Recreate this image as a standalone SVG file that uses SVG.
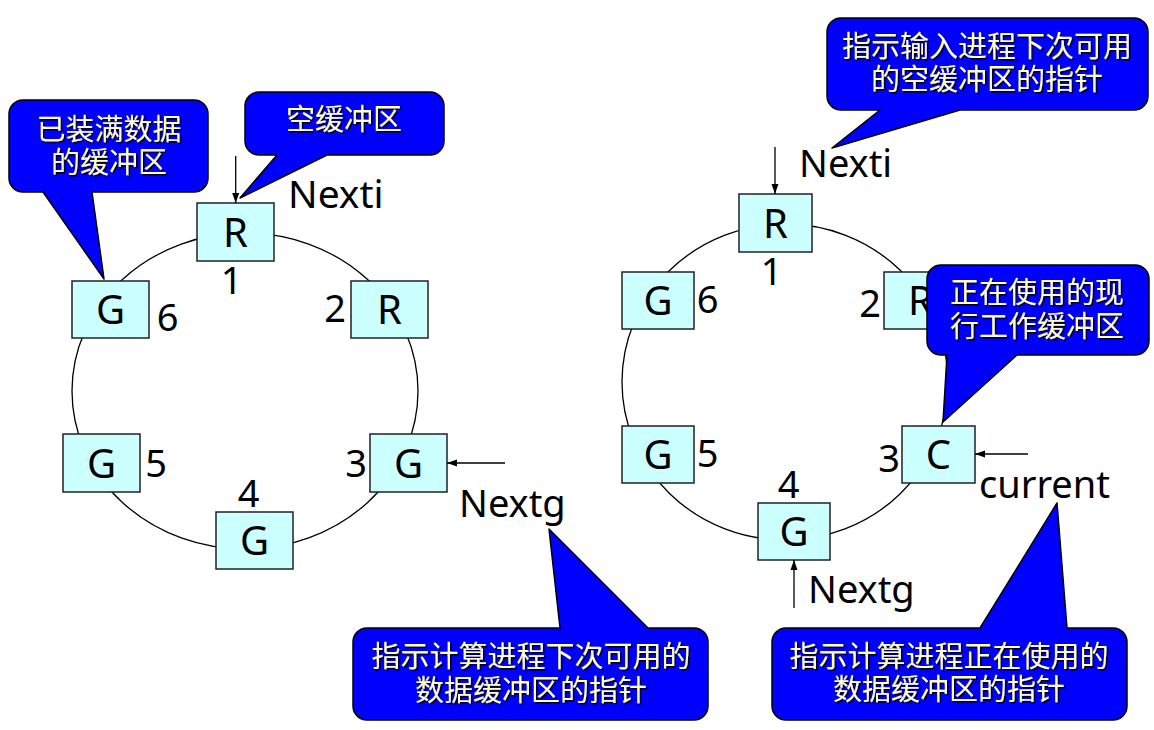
<svg xmlns="http://www.w3.org/2000/svg" width="1154" height="730" viewBox="0 0 1154 730">
<defs>
<marker id="ah" markerUnits="userSpaceOnUse" markerWidth="10" markerHeight="10" viewBox="0 0 10 10" refX="10" refY="5" orient="auto">
<path d="M0,1.5 L10,5 L0,8.5 Z" fill="#000"/>
</marker>
<filter id="sh" x="-5%" y="-20%" width="110%" height="140%">
<feDropShadow dx="1.5" dy="1.5" stdDeviation="0.3" flood-color="#000" flood-opacity="0.9"/>
</filter>
<style>
.ring{fill:none;stroke:#000;stroke-width:1.3}
.box{fill:#CCFFFF;stroke:#222;stroke-width:1.5}
.ltr{font-family:"Noto Sans","DejaVu Sans",sans-serif;font-size:40px;fill:#000;text-anchor:middle}
.num{font-family:"Noto Sans","DejaVu Sans",sans-serif;font-size:38px;fill:#000;text-anchor:middle}
.ptr{font-family:"Noto Sans","DejaVu Sans",sans-serif;font-size:38px;fill:#000}
.arr{stroke:#000;stroke-width:1.3;fill:none;marker-end:url(#ah)}
.call{fill:#0000FF;stroke:#000;stroke-width:1.5;stroke-linejoin:round}
.ct{font-family:"Noto Sans CJK SC","Noto Sans",sans-serif;font-size:29px;fill:#FFFFCC;text-anchor:middle;filter:url(#sh)}
</style>
</defs>
<rect width="1154" height="730" fill="#fff"/>

<ellipse class="ring" cx="245" cy="391" rx="173" ry="158"/>
<ellipse class="ring" cx="785" cy="382" rx="163" ry="158"/>

<g id="L1"><rect class="box" x="197" y="203" width="77" height="58"/><text class="ltr" x="235.5" y="247">R</text><text class="num" x="231.5" y="294">1</text></g>
<g id="L2"><rect class="box" x="351" y="281" width="77" height="57"/><text class="ltr" x="389.5" y="324">R</text><text class="num" x="335" y="322">2</text></g>
<g id="L3"><rect class="box" x="370" y="434" width="77" height="58"/><text class="ltr" x="408.5" y="478">G</text><text class="num" x="356" y="477">3</text></g>
<g id="L4"><rect class="box" x="216" y="512" width="77" height="57"/><text class="ltr" x="254.5" y="555">G</text><text class="num" x="248.5" y="507">4</text></g>
<g id="L5"><rect class="box" x="63" y="434" width="77" height="58"/><text class="ltr" x="101.5" y="478">G</text><text class="num" x="156" y="477">5</text></g>
<g id="L6"><rect class="box" x="72" y="281" width="77" height="57"/><text class="ltr" x="110.5" y="324">G</text><text class="num" x="167.5" y="331">6</text></g>

<g id="R1"><rect class="box" x="739" y="194" width="73" height="58"/><text class="ltr" x="775.5" y="238">R</text><text class="num" x="771.5" y="285">1</text></g>
<g id="R2"><rect class="box" x="884" y="272" width="73" height="57"/><text class="ltr" x="920.5" y="315">R</text><text class="num" x="870" y="317">2</text></g>
<g id="R3"><rect class="box" x="902" y="426" width="73" height="57"/><text class="ltr" x="938.5" y="469">C</text><text class="num" x="889" y="472">3</text></g>
<g id="R4"><rect class="box" x="758" y="503" width="72" height="57"/><text class="ltr" x="794" y="546">G</text><text class="num" x="788.5" y="498">4</text></g>
<g id="R5"><rect class="box" x="622" y="426" width="72" height="57"/><text class="ltr" x="658" y="469">G</text><text class="num" x="707.5" y="467">5</text></g>
<g id="R6"><rect class="box" x="622" y="272" width="72" height="57"/><text class="ltr" x="658" y="315">G</text><text class="num" x="707.5" y="313">6</text></g>

<g id="pointers">
<text class="ptr" x="288" y="208" style="font-size:39px">Nexti</text>
<text class="ptr" x="459" y="517">Nextg</text>
<text class="ptr" x="799" y="177">Nexti</text>
<text class="ptr" x="979" y="498">current</text>
<text class="ptr" x="808" y="603">Nextg</text>
</g>

<g id="connectors">
<line class="arr" x1="235.7" y1="156" x2="235.7" y2="203"/>
<line class="arr" x1="505" y1="463" x2="447" y2="463"/>
<line class="arr" x1="775" y1="147" x2="775" y2="194"/>
<line class="arr" x1="1028" y1="454" x2="975" y2="454"/>
<line class="arr" x1="794" y1="608" x2="794" y2="560"/>
</g>

<g id="callout-full">
<path class="call" d="M23,100 H194 A14,14 0 0 1 208,114 V178 A14,14 0 0 1 194,192 H92 L104,279 L43,192 H23 A14,14 0 0 1 9,178 V114 A14,14 0 0 1 23,100 Z"/>
<text class="ct" x="109" y="140">已装满数据</text>
<text class="ct" x="109" y="173">的缓冲区</text>
</g>
<g id="callout-empty">
<path class="call" d="M259,92 H430 A14,14 0 0 1 444,106 V141 A14,14 0 0 1 430,155 H327 L240,198 L277,155 H259 A14,14 0 0 1 245,141 V106 A14,14 0 0 1 259,92 Z"/>
<text class="ct" x="344" y="130">空缓冲区</text>
</g>
<g id="callout-nexti">
<path class="call" d="M841,18 H1134 A14,14 0 0 1 1148,32 V96 A14,14 0 0 1 1134,110 H960 L832,148 L880,110 H841 A14,14 0 0 1 827,96 V32 A14,14 0 0 1 841,18 Z"/>
<text class="ct" x="987" y="57">指示输入进程下次可用</text>
<text class="ct" x="987" y="90">的空缓冲区的指针</text>
</g>
<g id="callout-current-buf">
<path class="call" d="M941,265 H1135 A14,14 0 0 1 1149,279 V341 A14,14 0 0 1 1135,355 H1017 L943,422 L947,355 H941 A14,14 0 0 1 927,341 V279 A14,14 0 0 1 941,265 Z"/>
<text class="ct" x="1037" y="303">正在使用的现</text>
<text class="ct" x="1037" y="337">行工作缓冲区</text>
</g>
<g id="callout-current">
<path class="call" d="M786,628 H980 L1057,503 L1067,628 H1113 A14,14 0 0 1 1127,642 V706 A14,14 0 0 1 1113,720 H786 A14,14 0 0 1 772,706 V642 A14,14 0 0 1 786,628 Z"/>
<text class="ct" x="949" y="667">指示计算进程正在使用的</text>
<text class="ct" x="949" y="700">数据缓冲区的指针</text>
</g>
<g id="callout-nextg">
<path class="call" d="M367,628 H560 L549,529 L648,628 H694 A14,14 0 0 1 708,642 V706 A14,14 0 0 1 694,720 H367 A14,14 0 0 1 353,706 V642 A14,14 0 0 1 367,628 Z"/>
<text class="ct" x="531" y="667">指示计算进程下次可用的</text>
<text class="ct" x="531" y="701">数据缓冲区的指针</text>
</g>
</svg>
